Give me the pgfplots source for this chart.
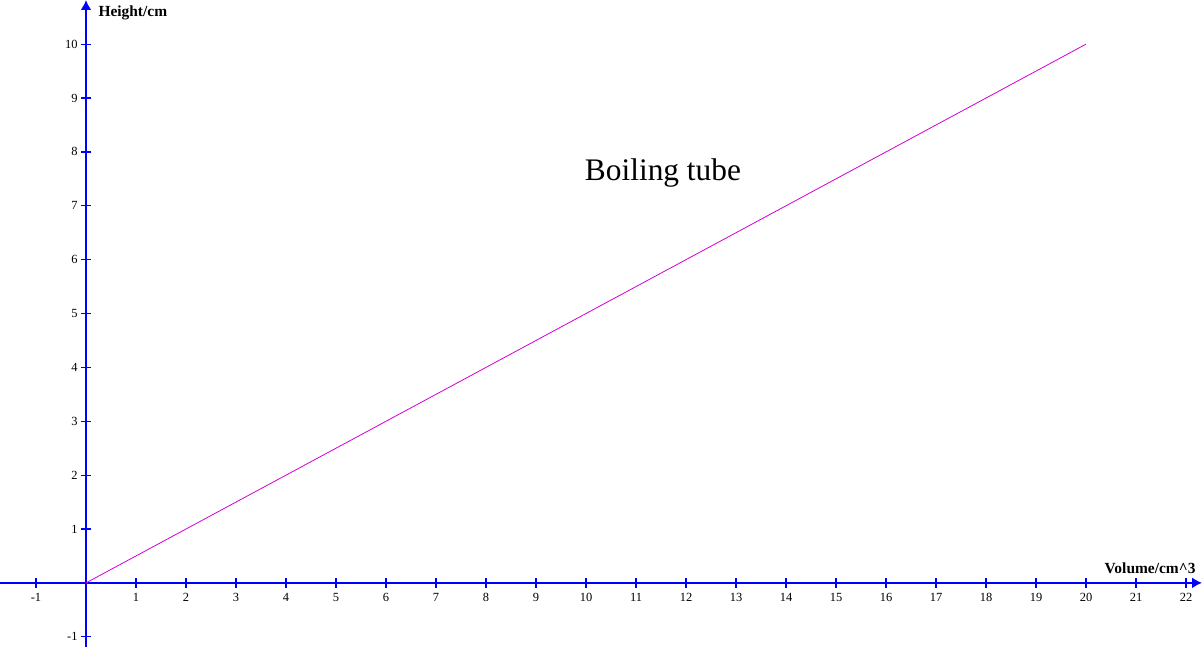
\documentclass[border=0pt]{standalone}
\usepackage{pgfplots}
\pgfplotsset{compat=1.18}
\usepackage{fontspec}
\setmainfont{Liberation Serif}
\usetikzlibrary{arrows.meta}
\definecolor{axblue}{RGB}{0,0,255}
\definecolor{lineMag}{RGB}{210,0,210}
\begin{document}
\begin{tikzpicture}
\begin{axis}[
  scale only axis,
  width=1202bp, height=647bp,
  xmin=-1.72, xmax=22.32,
  ymin=-1.19, ymax=10.82,
  axis lines=middle,
  axis line style={axblue, line width=1.8bp, -{Latex[length=10bp,width=11bp]}},
  xtick={-1,1,2,...,22},
  ytick={-1,1,2,...,10},
  tick align=center,
  major tick length=10bp,
  tick style={axblue, line width=1.2bp},
  /pgf/number format/assume math mode=true,
  ticklabel style={font=\fontsize{12.5}{12.5}\selectfont, text=black},
  xticklabel style={yshift=-2bp},
  clip=false,
]
\addplot[lineMag, line width=0.8bp] coordinates {(0,0) (20,10)};
\node[font=\fontsize{31.5}{31.5}\selectfont] at (axis cs:11.54,7.60) {Boiling tube};
\node[font=\bfseries\fontsize{15.5}{15.5}\selectfont, anchor=west] at (axis cs:0.18,10.58) {Height/cm};
\node[font=\bfseries\fontsize{15.5}{15.5}\selectfont, anchor=east] at (axis cs:22.26,0.28) {Volume/cm\textasciicircum 3};
\end{axis}
\pgfresetboundingbox
\useasboundingbox (current axis.south west) rectangle (current axis.north east);
\end{tikzpicture}
\end{document}
